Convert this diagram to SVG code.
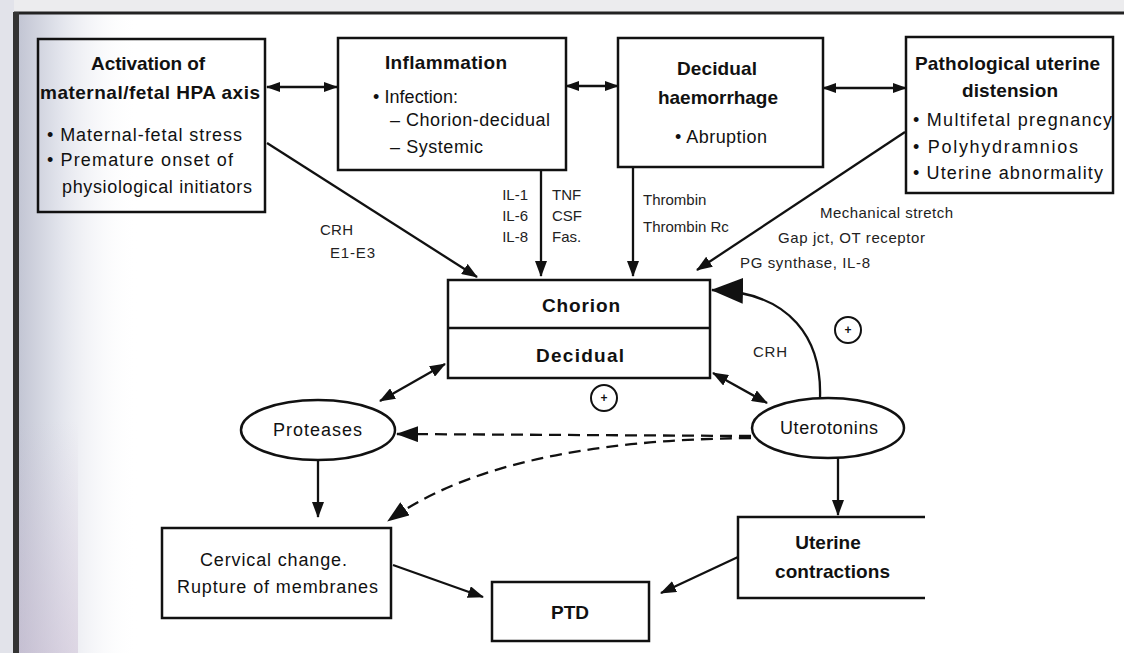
<svg xmlns="http://www.w3.org/2000/svg" width="1124" height="653" viewBox="0 0 1124 653">
  <defs>
    <linearGradient id="bgL" x1="0" y1="0" x2="1" y2="0">
      <stop offset="0" stop-color="#c2c5d3"/>
      <stop offset="0.35" stop-color="#e2e4ec"/>
      <stop offset="1" stop-color="#ffffff" stop-opacity="0"/>
    </linearGradient>
    <linearGradient id="bgV" x1="0" y1="0" x2="0" y2="1">
      <stop offset="0" stop-color="#c8b8d0" stop-opacity="0"/>
      <stop offset="1" stop-color="#c8b8d0" stop-opacity="0.45"/>
    </linearGradient>
    <marker id="ah" viewBox="0 0 16 12" refX="15" refY="6" markerWidth="16" markerHeight="12" markerUnits="userSpaceOnUse" orient="auto-start-reverse">
      <path d="M0,0 L16,6 L0,12 z" fill="#111"/>
    </marker>
    <marker id="ahs" viewBox="0 0 14 10" refX="13" refY="5" markerWidth="14" markerHeight="10" markerUnits="userSpaceOnUse" orient="auto-start-reverse">
      <path d="M0,0 L14,5 L0,10 z" fill="#111"/>
    </marker>
    <marker id="ahb" viewBox="0 0 32 26" refX="31" refY="13" markerWidth="32" markerHeight="26" markerUnits="userSpaceOnUse" orient="auto">
      <path d="M0,0 L32,13 L0,26 z" fill="#111"/>
    </marker>
    <marker id="ahd" viewBox="0 0 22 16" refX="21" refY="8" markerWidth="22" markerHeight="16" markerUnits="userSpaceOnUse" orient="auto">
      <path d="M0,0 L22,8 L0,16 z" fill="#111"/>
    </marker>
    <style>
      .box{fill:none;stroke:#111;stroke-width:2.5}
      .ell{fill:#fff;stroke:#111;stroke-width:2.5}
      .ln{fill:none;stroke:#111;stroke-width:2.3}
      .dash{fill:none;stroke:#111;stroke-width:2.3;stroke-dasharray:12 7}
      .h{font-family:"Liberation Sans",Arial,sans-serif;font-size:19px;font-weight:bold;fill:#111}
      .b{font-family:"Liberation Sans",Arial,sans-serif;font-size:18px;fill:#111}
      .l{font-family:"Liberation Sans",Arial,sans-serif;font-size:15px;fill:#222}
      .pm{font-family:"Liberation Sans",Arial,sans-serif;font-size:12px;font-weight:bold;fill:#111}
    </style>
  </defs>

  <!-- background / frame -->
  <rect x="0" y="0" width="1124" height="653" fill="#ffffff"/>
  <rect x="0" y="0" width="1124" height="12" fill="#ececee"/>
  <rect x="0" y="0" width="14" height="653" fill="#e2e3ea"/>
  <rect x="18" y="14" width="120" height="639" fill="url(#bgL)"/>
  <rect x="18" y="420" width="60" height="233" fill="url(#bgV)"/>
  <line x1="14" y1="13" x2="1124" y2="13" stroke="#222" stroke-width="3"/>
  <line x1="16" y1="12" x2="16" y2="653" stroke="#333" stroke-width="6"/>

  <g id="connectors">
    <line class="ln" x1="267" y1="87" x2="337" y2="87" marker-start="url(#ahs)" marker-end="url(#ahs)"/>
    <line class="ln" x1="566" y1="86" x2="618" y2="86" marker-start="url(#ahs)" marker-end="url(#ahs)"/>
    <line class="ln" x1="823" y1="88" x2="906" y2="88" marker-start="url(#ahs)" marker-end="url(#ahs)"/>
    <line class="ln" x1="267" y1="143" x2="477" y2="277" marker-end="url(#ah)"/>
    <line class="ln" x1="541" y1="170" x2="541" y2="276" marker-end="url(#ah)"/>
    <line class="ln" x1="633" y1="167" x2="633" y2="276" marker-end="url(#ah)"/>
    <line class="ln" x1="905" y1="132" x2="697" y2="270" marker-end="url(#ah)"/>
    <path class="ln" d="M820,398 C822,340 792,292 712,290" marker-end="url(#ahb)"/>
    <line class="ln" x1="380" y1="401" x2="445" y2="364" marker-start="url(#ah)" marker-end="url(#ah)"/>
    <line class="ln" x1="713" y1="373" x2="767" y2="403" marker-start="url(#ah)" marker-end="url(#ah)"/>
    <line class="dash" x1="751" y1="436" x2="397" y2="434" marker-end="url(#ahd)"/>
    <path class="dash" d="M751,438 Q500,440 388,521" marker-end="url(#ahd)"/>
    <line class="ln" x1="318" y1="460" x2="318" y2="517" marker-end="url(#ah)"/>
    <line class="ln" x1="838" y1="458" x2="838" y2="515" marker-end="url(#ah)"/>
    <line class="ln" x1="393" y1="565" x2="483" y2="597" marker-end="url(#ah)"/>
    <line class="ln" x1="738" y1="557" x2="661" y2="593" marker-end="url(#ah)"/>
    <text class="l" x="320" y="235" textLength="33">CRH</text>
    <text class="l" x="330" y="258" textLength="45">E1-E3</text>
    <text class="l" x="528" y="200" text-anchor="end">IL-1</text>
    <text class="l" x="528" y="221" text-anchor="end">IL-6</text>
    <text class="l" x="528" y="242" text-anchor="end">IL-8</text>
    <text class="l" x="552" y="200">TNF</text>
    <text class="l" x="552" y="221">CSF</text>
    <text class="l" x="552" y="242">Fas.</text>
    <text class="l" x="643" y="205">Thrombin</text>
    <text class="l" x="643" y="232">Thrombin Rc</text>
    <text class="l" x="820" y="218" textLength="133">Mechanical stretch</text>
    <text class="l" x="778" y="243" textLength="147">Gap jct, OT receptor</text>
    <text class="l" x="740" y="268" textLength="130">PG synthase, IL-8</text>
    <text class="l" x="753" y="357" textLength="34">CRH</text>
    <circle cx="848" cy="330" r="13" fill="none" stroke="#111" stroke-width="2"/>
    <text class="pm" x="848" y="334" text-anchor="middle">+</text>
    <circle cx="604" cy="398" r="13" fill="none" stroke="#111" stroke-width="2"/>
    <text class="pm" x="604" y="402" text-anchor="middle">+</text>
  </g>

  <g id="hpa">
    <rect class="box" x="38" y="39" width="227" height="173"/>
    <text class="h" x="91" y="70" textLength="114">Activation of</text>
    <text class="h" x="40" y="99" textLength="220">maternal/fetal HPA axis</text>
    <text class="b" x="47" y="141" textLength="195">• Maternal-fetal stress</text>
    <text class="b" x="47" y="166" textLength="186">• Premature onset of</text>
    <text class="b" x="62" y="193" textLength="190">physiological initiators</text>
  </g>

  <g id="inflammation">
    <rect class="box" x="338" y="38" width="228" height="132"/>
    <text class="h" x="385" y="69" textLength="122">Inflammation</text>
    <text class="b" x="373" y="103" textLength="85">• Infection:</text>
    <text class="b" x="390" y="126" textLength="160">– Chorion-decidual</text>
    <text class="b" x="390" y="153" textLength="93">– Systemic</text>
  </g>

  <g id="haemorrhage">
    <rect class="box" x="618" y="38" width="205" height="129"/>
    <text class="h" x="677" y="75" textLength="80">Decidual</text>
    <text class="h" x="658" y="104" textLength="120">haemorrhage</text>
    <text class="b" x="675" y="143" textLength="92">• Abruption</text>
  </g>

  <g id="distension">
    <rect class="box" x="906" y="37" width="207" height="156"/>
    <text class="h" x="915" y="70" textLength="185">Pathological uterine</text>
    <text class="h" x="962" y="97" textLength="96">distension</text>
    <text class="b" x="913" y="126" textLength="199">• Multifetal pregnancy</text>
    <text class="b" x="913" y="153" textLength="165">• Polyhydramnios</text>
    <text class="b" x="913" y="179" textLength="190">• Uterine abnormality</text>
  </g>

  <g id="chorion-decidual">
    <rect class="box" x="448" y="280" width="262" height="98"/>
    <line class="box" x1="448" y1="328" x2="710" y2="328"/>
    <text class="h" x="542" y="312" textLength="78">Chorion</text>
    <text class="h" x="536" y="362" textLength="88">Decidual</text>
  </g>

  <g id="proteases">
    <ellipse class="ell" cx="318" cy="430" rx="77" ry="30"/>
    <text class="b" x="273" y="436" textLength="89">Proteases</text>
  </g>

  <g id="uterotonins">
    <ellipse class="ell" cx="828" cy="428" rx="76" ry="30"/>
    <text class="b" x="780" y="434" textLength="98">Uterotonins</text>
  </g>

  <g id="cervical">
    <rect class="box" x="162" y="528" width="229" height="90"/>
    <text class="b" x="200" y="566" textLength="147">Cervical change.</text>
    <text class="b" x="177" y="593" textLength="201">Rupture of membranes</text>
  </g>

  <g id="ptd">
    <rect class="box" x="492" y="582" width="157" height="59"/>
    <text class="h" x="570" y="619" text-anchor="middle">PTD</text>
  </g>

  <g id="contractions">
    <path class="box" d="M925,517 H738 V598 H925"/>
    <text class="h" x="828" y="549" text-anchor="middle">Uterine</text>
    <text class="h" x="775" y="578" textLength="115">contractions</text>
  </g>
</svg>
